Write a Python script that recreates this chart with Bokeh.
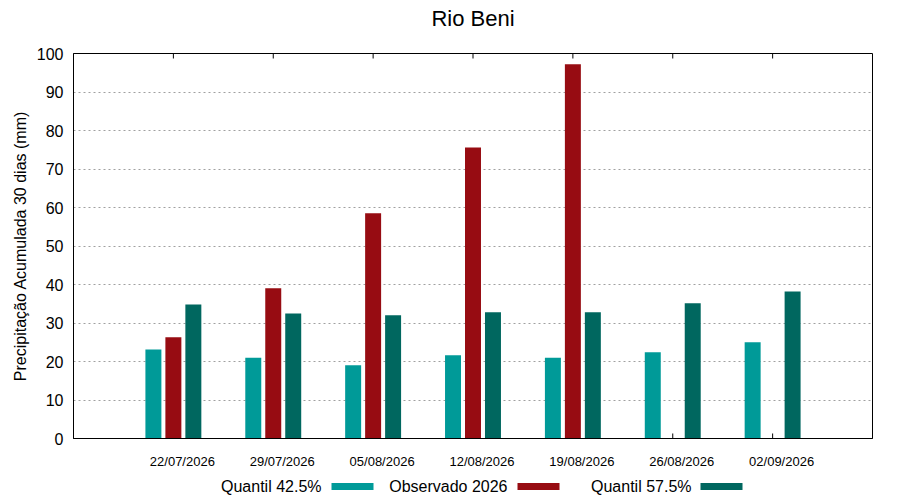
from bokeh.plotting import figure
from bokeh.layouts import column
from bokeh.models import ColumnDataSource, FixedTicker, Range1d
from bokeh.core.properties import value
from bokeh.embed import file_html
from bokeh.resources import INLINE

# Data
dates = ["22/07/2026", "29/07/2026", "05/08/2026", "12/08/2026",
         "19/08/2026", "26/08/2026", "02/09/2026"]
quantil_425 = [23.1, 21.0, 19.0, 21.6, 21.0, 22.4, 25.0]
observado_2026 = [26.3, 39.0, 58.5, 75.6, 97.2, None, None]
quantil_575 = [34.8, 32.5, 32.0, 32.8, 32.8, 35.1, 38.2]

chart_title = "Rio Beni"
series_labels = ["Quantil 42.5%", "Observado 2026", "Quantil 57.5%"]
series_colors = ["#009a98", "#970c12", "#00675f"]

FONT = "Liberation Sans"
idx = list(range(len(dates)))


def blank_figure(height):
    # helper strip with a pixel-based x range matching the main frame (73..872)
    f = figure(width=900, height=height, x_range=Range1d(73, 872), y_range=Range1d(0, height),
               output_backend="svg", toolbar_location=None,
               x_axis_location=None, y_axis_location=None,
               min_border=0, min_border_left=0, min_border_right=0,
               min_border_top=0, min_border_bottom=0)
    f.grid.visible = False
    f.outline_line_color = None
    return f


# title strip
head = blank_figure(40)
head.text(x=[472.5], y=[22], text=[chart_title], text_align="center",
          text_baseline="middle", text_font=value(FONT), text_font_size="22px",
          text_color="black")

# main chart
p = figure(width=900, height=431, x_range=Range1d(-1, 7), y_range=Range1d(0, 100),
           output_backend="svg", toolbar_location=None,
           min_border_left=73, min_border_right=28, min_border_top=13, min_border_bottom=10)

# inward tick marks at the group centres, bottom and top (drawn before the bars)
p.segment(x0=idx, x1=idx, y0=[0] * len(idx), y1=[1.3] * len(idx), line_color="black")
p.segment(x0=idx, x1=idx, y0=[100] * len(idx), y1=[98.7] * len(idx), line_color="black")

src_q1 = ColumnDataSource(data=dict(x=[i - 0.2 for i in idx], top=quantil_425))
obs_x = [i for i in idx if observado_2026[i] is not None]
src_obs = ColumnDataSource(data=dict(x=obs_x, top=[observado_2026[i] for i in obs_x]))
src_q2 = ColumnDataSource(data=dict(x=[i + 0.2 for i in idx], top=quantil_575))

for src, col in zip([src_q1, src_obs, src_q2], series_colors):
    p.vbar(x="x", top="top", bottom=0, width=0.16, source=src,
           fill_color=col, line_color=None)

# bottom axis: labels sit a little to the right of the group centre, like gnuplot
label_pos = [i + 0.09 for i in idx]
p.xaxis.ticker = FixedTicker(ticks=label_pos)
p.xaxis.major_label_overrides = {x: d for x, d in zip(label_pos, dates)}
p.xaxis.major_label_text_font = FONT
p.xaxis.major_label_text_font_size = "13px"
p.xaxis.major_label_text_color = "black"
p.xaxis.major_label_standoff = 15
p.xaxis.major_tick_in = 0
p.xaxis.major_tick_out = 0
p.xaxis.minor_tick_line_color = None
p.xaxis.axis_line_color = "black"

p.yaxis.ticker = FixedTicker(ticks=list(range(0, 101, 10)))
p.yaxis.axis_label = "Precipitação Acumulada 30 dias (mm)"
p.yaxis.axis_label_text_font = FONT
p.yaxis.axis_label_text_font_size = "16px"
p.yaxis.axis_label_text_font_style = "normal"
p.yaxis.axis_label_text_color = "black"
p.yaxis.axis_label_standoff = 5
p.yaxis.major_label_text_font = FONT
p.yaxis.major_label_text_font_size = "16px"
p.yaxis.major_label_text_color = "black"
p.yaxis.major_label_standoff = 10
p.yaxis.major_tick_in = 0
p.yaxis.major_tick_out = 0
p.yaxis.minor_tick_line_color = None
p.yaxis.axis_line_color = "black"

p.xgrid.grid_line_color = None
p.ygrid.grid_line_color = "#a0a0a0"
p.ygrid.grid_line_dash = "2 3"
p.ygrid.grid_line_width = 1

p.outline_line_color = "black"
p.outline_line_alpha = 1
p.background_fill_color = "white"
p.border_fill_color = "white"

# legend row: label text followed by its colour swatch
leg = blank_figure(29)
leg_text_right = [321, 507, 691]
leg_swatch_left = [331, 517, 700]
leg.text(x=leg_text_right, y=[14] * 3, text=series_labels, text_align="right",
         text_baseline="middle", text_font=value(FONT), text_font_size="16px",
         text_color="black")
leg.rect(x=[s + 21 for s in leg_swatch_left], y=[14] * 3, width=42, height=7,
         fill_color=series_colors, line_color=None)

layout = column(head, p, leg, spacing=0)
open("out.html", "w").write(file_html(layout, INLINE))
